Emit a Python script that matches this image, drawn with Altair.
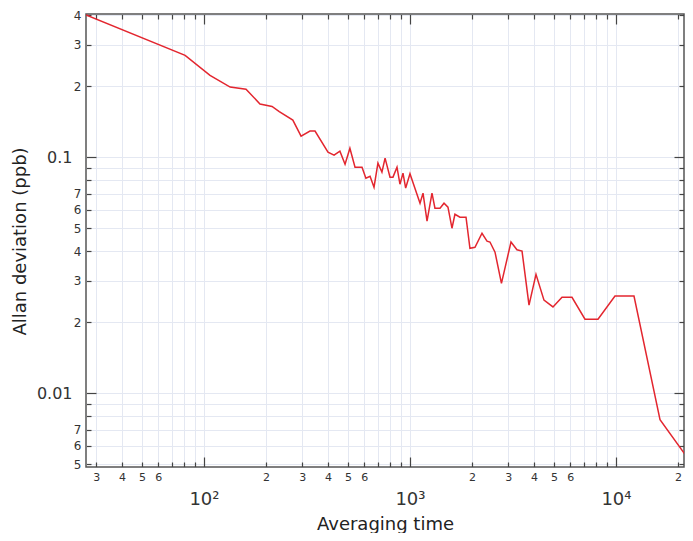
import json
import altair as alt
import pandas as pd

# ---- data ----
tau = [26.75, 81, 107, 134, 160, 187, 214, 232, 270, 296, 327, 346, 400, 428, 457,
       484, 511, 541, 585, 611, 640, 669, 699, 731, 757, 800, 827, 865, 894, 925,
       953, 1000, 1119, 1157, 1210, 1279, 1322, 1399, 1463, 1529, 1599, 1653, 1748,
       1871, 1955, 2068, 2237, 2366, 2445, 2587, 2780, 3093, 3306, 3499, 3783, 4090,
       4472, 4945, 5470, 6116, 7073, 8180, 9890, 12230, 16360, 23100]
adev = [0.40, 0.27, 0.222, 0.198, 0.194, 0.168, 0.164, 0.156, 0.1435, 0.1228, 0.129,
        0.129, 0.105, 0.102, 0.106, 0.0934, 0.109, 0.0907, 0.0907, 0.0815, 0.083,
        0.0746, 0.0943, 0.0864, 0.099, 0.0823, 0.0823, 0.0907, 0.0768, 0.0856,
        0.074, 0.085, 0.0638, 0.0704, 0.0536, 0.0704, 0.0608, 0.0608, 0.0638, 0.0614,
        0.050, 0.0573, 0.0557, 0.0557, 0.0411, 0.0415, 0.0476, 0.0441, 0.0437, 0.0396,
        0.0292, 0.0437, 0.0405, 0.040, 0.0236, 0.0319, 0.0248, 0.0232, 0.0255, 0.0255,
        0.0206, 0.0206, 0.0258, 0.0258, 0.00772, 0.00509]

x_tick_values = [30, 40, 50, 60, 70, 80, 90,
                 100, 200, 300, 400, 500, 600, 700, 800, 900,
                 1000, 2000, 3000, 4000, 5000, 6000, 7000, 8000, 9000,
                 10000, 20000]
x_tick_labels = ["3", "4", "5", "6", "", "", "",
                 "10²", "2", "3", "4", "5", "6", "", "", "",
                 "10³", "2", "3", "4", "5", "6", "", "", "",
                 "10⁴", "2"]
x_major = [100, 1000, 10000]

y_tick_values = [0.005, 0.006, 0.007, 0.008, 0.009,
                 0.01, 0.02, 0.03, 0.04, 0.05, 0.06, 0.07, 0.08, 0.09,
                 0.1, 0.2, 0.3, 0.4]
y_tick_labels = ["5", "6", "7", "", "",
                 "0.01", "2", "3", "4", "5", "6", "7", "", "",
                 "0.1", "2", "3", "4"]
y_major = [0.01, 0.1]

x_domain = [26.75, 21390]
y_domain = [0.00487, 0.404]

W, H = 598, 453
FONT = "DejaVu Sans"
GRID = "#e4e8f2"
TICK = "#444444"

df = pd.DataFrame({"tau": tau, "adev": adev})


def lab_expr(values, labels):
    return f"{json.dumps(labels, ensure_ascii=False)}[indexof({json.dumps(values)}, datum.value)]"


def is_major(values):
    return f"indexof({json.dumps(values)}, datum.value) >= 0"


xscale = alt.Scale(type="log", domain=x_domain, nice=False)
yscale = alt.Scale(type="log", domain=y_domain, nice=False)

main = alt.Chart(df).mark_line(color="#e3262f", strokeWidth=1.5, clip=True).encode(
    x=alt.X("tau:Q", scale=xscale, axis=alt.Axis(
        orient="bottom", values=x_tick_values, labelExpr=lab_expr(x_tick_values, x_tick_labels),
        ticks=False, domain=False, grid=True, gridColor=GRID, gridWidth=1,
        labelFont=FONT, labelColor="#333333", labelOverlap=False, labelFlush=False, labelBound=False,
        labelFontSize={"condition": {"test": is_major(x_major), "value": 18}, "value": 11},
        labelPadding={"condition": {"test": is_major(x_major), "value": 23}, "value": 4},
        title="Averaging time", titleFont=FONT, titleFontSize=18, titleFontWeight="normal",
        titleColor="#222222", titleBaseline="alphabetic", titleY=62)),
    y=alt.Y("adev:Q", scale=yscale, axis=alt.Axis(
        orient="left", values=y_tick_values, labelExpr=lab_expr(y_tick_values, y_tick_labels),
        ticks=False, domain=False, grid=True, gridColor=GRID, gridWidth=1,
        labelFont=FONT, labelColor="#333333", labelOverlap=False, labelFlush=False, labelBound=False,
        labelFontSize={"condition": {"test": is_major(y_major), "value": 16}, "value": 12},
        labelPadding={"condition": {"test": is_major(y_major), "value": 14}, "value": 5},
        title="Allan deviation (ppb)", titleFont=FONT, titleFontSize=18, titleFontWeight="normal",
        titleColor="#222222", titleBaseline="middle", titleX=-66, titleY=227)),
)

# inward ticks along bottom and left edges
ticks_bl = alt.Chart(df).mark_line(strokeOpacity=0).encode(
    x=alt.X("tau:Q", scale=xscale, axis=alt.Axis(
        orient="top", offset=-H, values=x_tick_values, labels=False, domain=False, grid=False,
        tickColor=TICK, tickWidth=1.2,
        tickSize={"condition": {"test": is_major(x_major), "value": 10}, "value": 5}, title="")),
    y=alt.Y("adev:Q", scale=yscale, axis=alt.Axis(
        orient="right", offset=-W, values=y_tick_values, labels=False, domain=False, grid=False,
        tickColor=TICK, tickWidth=1.2,
        tickSize={"condition": {"test": is_major(y_major), "value": 10}, "value": 5}, title="")),
)

# inward ticks along top and right edges
ticks_tr = alt.Chart(df).mark_line(strokeOpacity=0).encode(
    x=alt.X("tau:Q", scale=xscale, axis=alt.Axis(
        orient="bottom", offset=-H, values=x_tick_values, labels=False, domain=False, grid=False,
        tickColor=TICK, tickWidth=1.2,
        tickSize={"condition": {"test": is_major(x_major), "value": 10}, "value": 5}, title="")),
    y=alt.Y("adev:Q", scale=yscale, axis=alt.Axis(
        orient="left", offset=-W, values=y_tick_values, labels=False, domain=False, grid=False,
        tickColor=TICK, tickWidth=1.2,
        tickSize={"condition": {"test": is_major(y_major), "value": 10}, "value": 5}, title="")),
)

chart = alt.layer(main, ticks_bl, ticks_tr).resolve_axis(
    x="independent", y="independent"
).properties(
    width=W, height=H,
    autosize=alt.AutoSizeParams(type="none"),
    padding={"left": 78, "top": 6, "right": 1, "bottom": 66},
).configure_view(stroke="#555555", strokeWidth=1.5)

chart.save("out.html", embed_options={"renderer": "svg", "actions": False})
